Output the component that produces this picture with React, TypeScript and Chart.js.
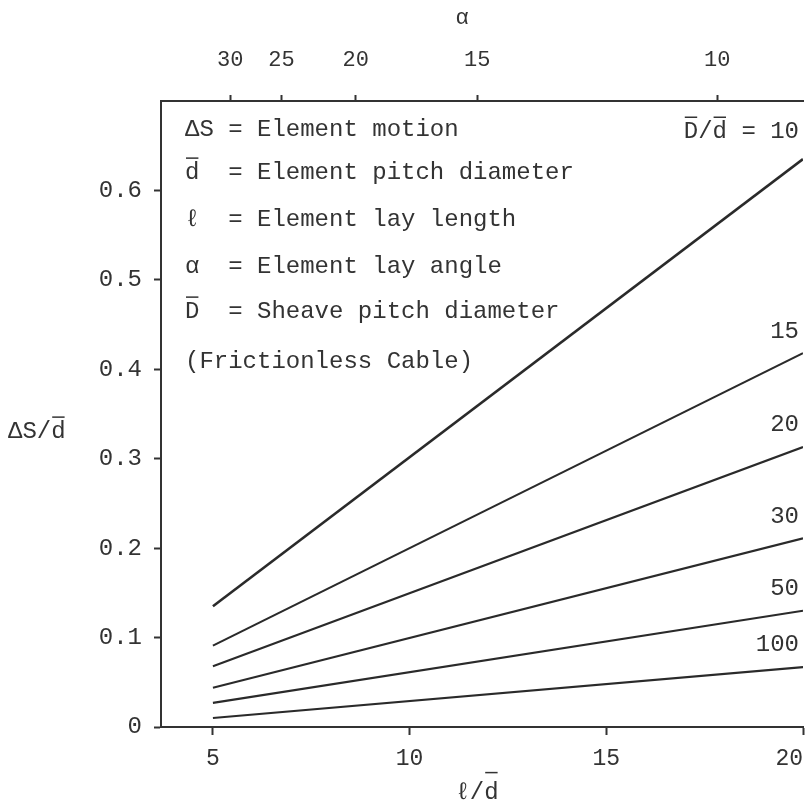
import { useEffect, useRef } from 'react';
import { Chart, registerables } from 'chart.js';

Chart.register(...registerables);

// ---- data ----
const layRatio = [5, 20]; // ℓ/d at the ends of each curve
const sheaveRatioLabels = ['10', '15', '20', '30', '50', '100'];
const motion10 = [0.135, 0.635];
const motion15 = [0.091, 0.418];
const motion20 = [0.068, 0.313];
const motion30 = [0.044, 0.211];
const motion50 = [0.027, 0.13];
const motion100 = [0.01, 0.067];
const xTickValues = [5, 10, 15, 20];
const yTickValues = [0, 0.1, 0.2, 0.3, 0.4, 0.5, 0.6];
const alphaTickLabels = ['30', '25', '20', '15', '10'];
const alphaTickPositions = [5.44, 6.74, 8.63, 11.72, 17.82]; // ℓ/d where lay angle α = 30..10°
const legendLines = [
  'ΔS = Element motion',
  'd  = Element pitch diameter',
  'ℓ  = Element lay length',
  'α  = Element lay angle',
  'D  = Sheave pitch diameter',
  '(Frictionless Cable)',
];
const legendOverlined = [false, true, false, false, true, false];

const FONT = "'Liberation Mono', 'DejaVu Sans Mono', monospace";
const INK = '#333333';
const LINE = '#2a2a2a';

function drawText(
  ctx: CanvasRenderingContext2D,
  text: string,
  x: number,
  y: number,
  size: number,
  align: 'left' | 'right' | 'center',
  overIdx: number[] = [],
  overRise = 0.62
) {
  ctx.save();
  ctx.font = `${size}px ${FONT}`;
  ctx.fillStyle = INK;
  ctx.strokeStyle = INK;
  ctx.textBaseline = 'middle';
  ctx.textAlign = 'left';
  const w = ctx.measureText(text).width;
  let left = x;
  if (align === 'right') left = x - w;
  if (align === 'center') left = x - w / 2;
  ctx.fillText(text, left, y);
  ctx.lineWidth = 1.5;
  for (const i of overIdx) {
    const x0 = left + ctx.measureText(text.slice(0, i)).width;
    const cw = ctx.measureText(text[i]).width;
    ctx.beginPath();
    ctx.moveTo(x0 + 1, y - size * overRise);
    ctx.lineTo(x0 + cw - 1, y - size * overRise);
    ctx.stroke();
  }
  ctx.restore();
}

const annotationPlugin = {
  id: 'annotations',
  afterDraw(chart: any) {
    const ctx = chart.ctx as CanvasRenderingContext2D;
    const xs = chart.scales.x;
    const ys = chart.scales.y;
    // definitions block
    const legendY = [130, 173, 220, 267, 312, 362];
    legendLines.forEach((t, i) => {
      drawText(ctx, t, 185, legendY[i], 24, 'left', legendOverlined[i] ? [0] : []);
    });
    // curve labels
    chart.data.datasets.forEach((ds: any, i: number) => {
      const last = ds.data[ds.data.length - 1];
      const px = xs.getPixelForValue(last.x) - 4;
      if (i === 0) {
        const py = ys.getPixelForValue(last.y) - 27;
        drawText(ctx, 'D/d = ' + sheaveRatioLabels[i], px, py, 24, 'right', [0, 2]);
      } else {
        const py = ys.getPixelForValue(last.y) - 22;
        drawText(ctx, sheaveRatioLabels[i], px, py, 24, 'right');
      }
    });
    // axis titles
    drawText(ctx, 'ΔS/d', 8, 432, 24, 'left', [3]);
    drawText(ctx, 'ℓ/d', 477, 793, 24, 'center', [2], 0.85);
    drawText(ctx, 'α', 462, 18, 22, 'center');
  },
};

const noSidePadding = (s: any) => {
  s.paddingLeft = 0;
  s.paddingRight = 0;
};

export default function App() {
  const ref = useRef<HTMLCanvasElement | null>(null);
  useEffect(() => {
    if (!ref.current) return;
    const series = [motion10, motion15, motion20, motion30, motion50, motion100];
    const chart = new Chart(ref.current, {
      type: 'scatter',
      data: {
        datasets: series.map((s, i) => ({
          label: 'D/d = ' + sheaveRatioLabels[i],
          data: layRatio.map((x, j) => ({ x, y: s[j] })),
          showLine: true,
          borderColor: LINE,
          borderWidth: i === 0 ? 2.6 : 2.1,
          pointRadius: 0,
          fill: false,
        })),
      },
      options: {
        responsive: false,
        animation: false,
        devicePixelRatio: 1,
        layout: { padding: { left: 0, right: 6, top: 0, bottom: 0 } },
        plugins: { legend: { display: false }, tooltip: { enabled: false } },
        scales: {
          x: {
            type: 'linear',
            position: 'bottom',
            min: 3.68,
            max: 20,
            afterBuildTicks: (s: any) => {
              s.ticks = xTickValues.map((v) => ({ value: v }));
            },
            afterFit: (s: any) => {
              s.height = 82;
              noSidePadding(s);
            },
            grid: { drawOnChartArea: false, drawTicks: true, tickLength: 8, color: INK, tickWidth: 2 },
            border: { display: true, color: INK, width: 2 },
            ticks: {
              autoSkip: false,
              maxRotation: 0,
              padding: 10,
              color: INK,
              font: { family: FONT, size: 23 },
              callback: (v: any) => (v === 20 ? '20  ' : String(v)),
            },
          },
          x2: {
            type: 'linear',
            position: 'top',
            min: 3.68,
            max: 20,
            afterBuildTicks: (s: any) => {
              s.ticks = alphaTickPositions.map((v) => ({ value: v }));
            },
            afterFit: (s: any) => {
              s.height = 101;
              noSidePadding(s);
            },
            grid: { drawOnChartArea: false, drawTicks: true, tickLength: 6, color: INK, tickWidth: 2 },
            border: { display: true, color: INK, width: 2 },
            ticks: {
              autoSkip: false,
              maxRotation: 0,
              padding: 22,
              color: INK,
              font: { family: FONT, size: 22 },
              callback: (_v: any, i: number) => alphaTickLabels[i],
            },
          },
          y: {
            type: 'linear',
            min: 0,
            max: 0.7,
            afterBuildTicks: (s: any) => {
              s.ticks = yTickValues.map((v) => ({ value: v }));
            },
            afterFit: (s: any) => {
              s.width = 161;
              s.paddingTop = 0;
              s.paddingBottom = 0;
            },
            grid: { drawOnChartArea: false, drawTicks: true, tickLength: 7, color: INK, tickWidth: 2 },
            border: { display: true, color: INK, width: 2 },
            ticks: {
              autoSkip: false,
              padding: 12,
              color: INK,
              font: { family: FONT, size: 24 },
              callback: (v: any) => (v === 0 ? '0' : Number(v).toFixed(1)),
            },
          },
        },
      },
      plugins: [annotationPlugin],
    } as any);
    return () => chart.destroy();
  }, []);
  return (
    <div style={{ position: 'absolute', left: 0, top: 0, width: 809, height: 809, background: '#fff' }}>
      <canvas ref={ref} width={809} height={809} style={{ display: 'block' }} />
    </div>
  );
}
